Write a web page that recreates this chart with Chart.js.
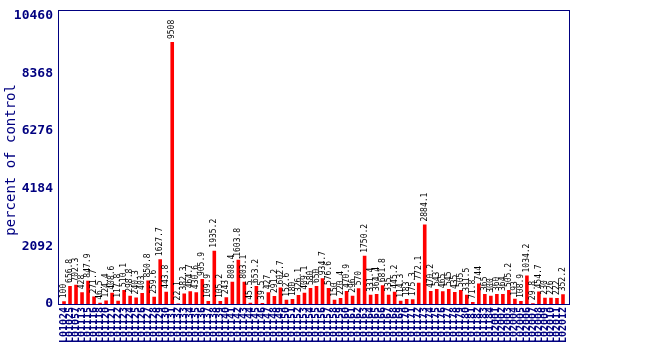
<!DOCTYPE html>
<html>
<head>
<meta charset="utf-8">
<script src="https://cdn.jsdelivr.net/npm/chart.js@4/dist/chart.umd.min.js"></script>
<style>
  html, body { margin: 0; padding: 0; background: #ffffff; }
  #wrap { width: 650px; height: 350px; }
</style>
</head>
<body>
<div id="wrap"><canvas id="c" width="650" height="350"></canvas></div>
<script>
const categories = [
  "L01024","L01025","L01057","L01113","L01115","L01116","L01118","L01120","L01121","L01122",
  "L01123","L01124","L01125","L01126","L01127","L01128","L01129","L01130","L01131","L01132",
  "L01133","L01134","L01135","L01136","L01137","L01138","L01139","L01140","L01141","L01142",
  "L01143","L01144","L01145","L01146","L01147","L01148","L01149","L01150","L01151","L01152",
  "L01153","L01154","L01155","L01156","L01157","L01158","L01159","L01160","L01161","L01162",
  "L01163","L01164","L01165","L01166","L01167","L01168","L01169","L01170","L01171","L01172",
  "L01173","L01174","L01175","L01176","L01177","L01178","L01179","L01180","L01181","L01182",
  "L01183","L01184","L02001","L02002","L02003","L02004","L02005","L02006","L02007","L02008",
  "L02009","L02010","L02011","L02012"
];
const values = [
  100, 656.8, 702.3, 428, 847.9, 271.7, 46.5, 124.4, 408.6, 117.8,
  510.1, 298.8, 240.3, 403, 850.8, 259.6, 1627.7, 443.8, 9508, 22.1,
  382.3, 464.7, 430.6, 905.9, 109.9, 1935.2, 105.2, 243, 808.4, 1603.8,
  803.1, 45.5, 653.2, 39.5, 427, 291.2, 602.7, 152.6, 180, 326.1,
  409.1, 580, 650, 934.7, 576.6, 150, 220.4, 470.9, 296, 570,
  1750.2, 331.4, 364.4, 681.8, 335, 445.2, 114.3, 183, 175.3, 772.1,
  2884.1, 470.2, 543, 465, 545, 435, 505, 331.5, 71.8, 744,
  365, 300, 360, 364, 505.2, 193, 108.9, 1034.2, 29.8, 454.7,
  230, 226, 222, 352.2
];
const yTicks = [0, 2092, 4184, 6276, 8368, 10460];
const yTitle = "percent of control";

const NAVY = "#000080";
const FRAME = { left: 58, right: 569, top: 10, bottom: 304 };

const valueLabels = {
  id: "valueLabels",
  afterDatasetsDraw(chart) {
    const ctx = chart.ctx;
    const meta = chart.getDatasetMeta(0);
    ctx.save();
    ctx.fillStyle = "#000000";
    ctx.font = "8px 'DejaVu Sans Mono'";
    ctx.textAlign = "left";
    ctx.textBaseline = "middle";
    meta.data.forEach((bar, i) => {
      const txt = String(values[i]);
      ctx.save();
      ctx.translate(bar.x, bar.y - 3);
      ctx.rotate(-Math.PI / 2);
      ctx.fillText(txt, 0, 0);
      ctx.restore();
    });
    ctx.restore();
  }
};

const frame = {
  id: "frame",
  afterDraw(chart) {
    const ctx = chart.ctx;
    ctx.save();
    ctx.strokeStyle = NAVY;
    ctx.lineWidth = 1;
    ctx.strokeRect(FRAME.left + 0.5, FRAME.top + 0.5, FRAME.right - FRAME.left, FRAME.bottom - FRAME.top);
    ctx.restore();
  }
};

new Chart(document.getElementById("c"), {
  type: "bar",
  data: {
    labels: categories,
    datasets: [{
      data: values,
      backgroundColor: "#ff0000",
      borderWidth: 0,
      barPercentage: 0.6,
      categoryPercentage: 1.0
    }]
  },
  options: {
    responsive: false,
    animation: false,
    devicePixelRatio: 1,
    layout: { padding: { left: 0, right: 84, top: 10, bottom: 0 } },
    plugins: { legend: { display: false }, tooltip: { enabled: false } },
    scales: {
      x: {
        offset: true,
        grid: { display: false, drawTicks: false },
        border: { display: false },
        afterFit(s) { s.height = 46; },
        ticks: {
          color: NAVY,
          font: { family: "'DejaVu Sans Mono'", size: 10, weight: "bold" },
          minRotation: 90, maxRotation: 90,
          autoSkip: false,
          padding: 3
        }
      },
      y: {
        min: 0, max: 10460,
        afterBuildTicks(s) { s.ticks = yTicks.map(v => ({ value: v })); },
        grid: { display: false, drawTicks: false },
        border: { display: false },
        afterFit(s) { s.width = 61; },
        title: {
          display: true,
          text: yTitle,
          color: NAVY,
          font: { family: "'DejaVu Sans Mono'", size: 14 },
          padding: { top: 3, bottom: 0 }
        },
        ticks: {
          color: NAVY,
          font: { family: "'DejaVu Sans Mono'", size: 13, weight: "bold" },
          padding: 8,
          callback: (v) => String(v)
        }
      }
    }
  },
  plugins: [valueLabels, frame]
});
</script>
</body>
</html>
